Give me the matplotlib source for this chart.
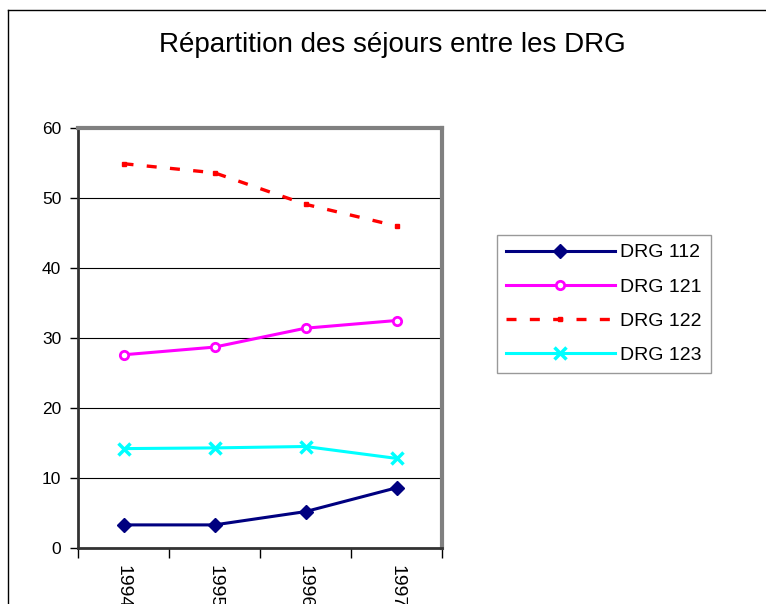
import matplotlib.pyplot as plt
from matplotlib.lines import Line2D

years = ['1994', '1995', '1996', '1997']
drg112 = [3.3, 3.3, 5.2, 8.6]
drg121 = [27.6, 28.7, 31.4, 32.5]
drg122 = [54.9, 53.6, 49.1, 46.0]
drg123 = [14.2, 14.3, 14.5, 12.8]

plt.rcParams['font.family'] = ['Liberation Sans', 'DejaVu Sans']

fig = plt.figure(figsize=(7.66, 6.04), dpi=100)
ax = fig.add_axes([78/766, 1 - 548/604, (442 - 78)/766, (548 - 128)/604])

x = range(len(years))
ax.plot(x, drg112, color='#000080', lw=2.2, marker='D', ms=7, label='DRG 112')
ax.plot(x, drg121, color='#FF00FF', lw=2.2, marker='o', ms=6, mfc='white', mew=2, label='DRG 121')
ax.plot(x, drg122, color='#FF0000', lw=2.4, ls=(0, (3, 4)), marker='s', ms=3.5, label='DRG 122')
ax.plot(x, drg123, color='#00FFFF', lw=2.2, marker='x', ms=8, mew=2.5, label='DRG 123')

ax.set_xlim(-0.5, 3.5)
ax.set_ylim(0, 60)
ax.set_yticks(range(0, 61, 10))
ax.yaxis.grid(True, color='black', lw=0.8)
ax.set_axisbelow(True)
ax.tick_params(axis='y', direction='out', length=6, width=1, labelsize=12.5, pad=6)

ax.set_xticks([-0.5, 0.5, 1.5, 2.5, 3.5])
ax.set_xticklabels([])
ax.tick_params(axis='x', which='major', direction='out', length=7, width=1)
ax.set_xticks(list(x), minor=True)
ax.set_xticklabels(years, minor=True, rotation=-90, fontsize=14)
ax.tick_params(axis='x', which='minor', length=0, pad=12)

ax.spines['left'].set_color('#333333')
ax.spines['left'].set_linewidth(2)
ax.spines['bottom'].set_color('#333333')
ax.spines['bottom'].set_linewidth(2)
ax.spines['top'].set_color('#808080')
ax.spines['top'].set_linewidth(3)
ax.spines['right'].set_color('#808080')
ax.spines['right'].set_linewidth(3)

fig.text(392/766, 1 - 45/604, 'Répartition des séjours entre les DRG',
         ha='center', va='center', fontsize=20)

leg = fig.legend(loc='upper left', bbox_to_anchor=(497/766, 1 - 235/604),
                 fontsize=14, handlelength=5.6, labelspacing=0.85,
                 frameon=True, fancybox=False, borderaxespad=0,
                 borderpad=0.45, handletextpad=0.3)
leg.get_frame().set_edgecolor('#808080')
leg.get_frame().set_linewidth(1)

# outer chart frame
top = 1 - 10/604
fig.add_artist(Line2D([8/766, 1], [top, top], color='black', lw=1))
fig.add_artist(Line2D([8/766, 8/766], [0, top], color='black', lw=1))

fig.savefig('out.png', dpi=100)
